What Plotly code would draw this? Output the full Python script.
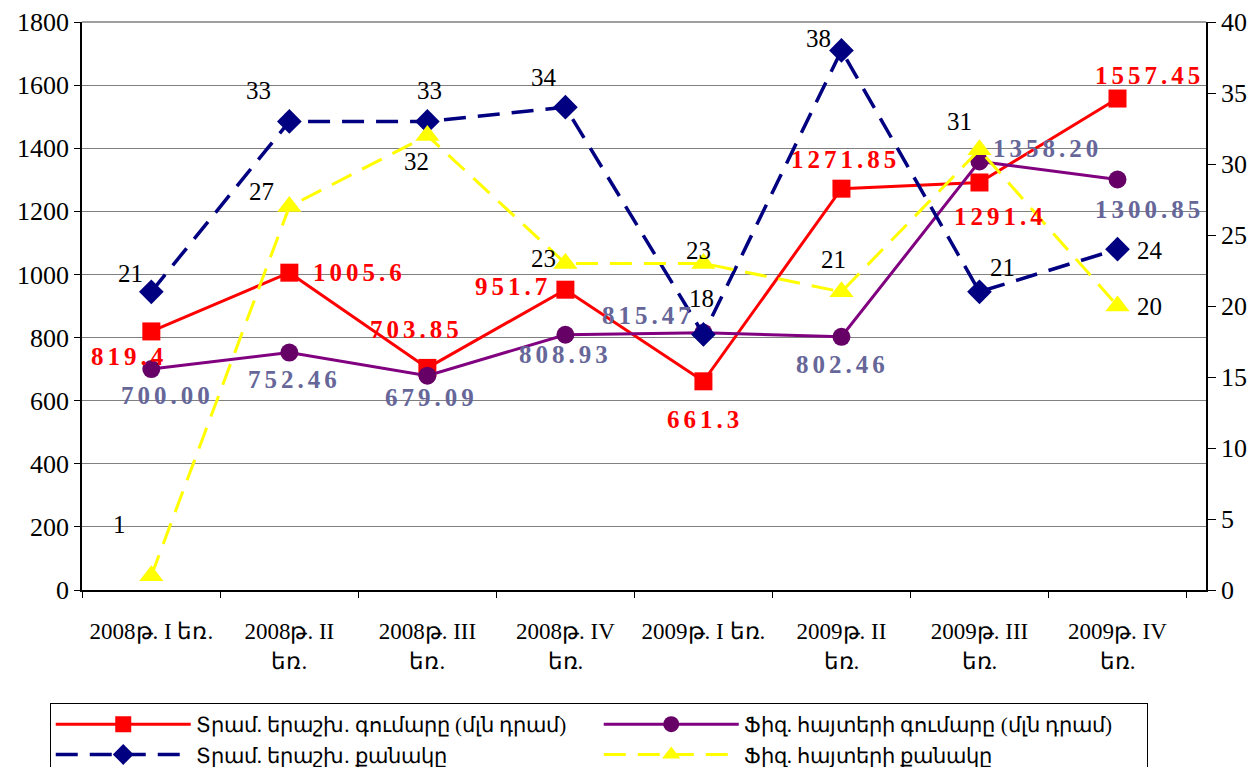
import plotly.graph_objects as go

categories = ["2008թ. I եռ.", "2008թ. II<br>եռ.", "2008թ. III<br>եռ.", "2008թ. IV<br>եռ.",
              "2009թ. I եռ.", "2009թ. II<br>եռ.", "2009թ. III<br>եռ.", "2009թ. IV<br>եռ."]

guar_sum = [819.4, 1005.6, 703.85, 951.7, 661.3, 1271.85, 1291.4, 1557.45]
guar_sum_labels = ["819.4", "1005.6", "703.85", "951.7", "661.3", "1271.85", "1291.4", "1557.45"]
app_sum = [700.00, 752.46, 679.09, 808.93, 815.47, 802.46, 1358.20, 1300.85]
app_sum_labels = ["700.00", "752.46", "679.09", "808.93", "815.47", "802.46", "1358.20", "1300.85"]
guar_cnt = [21, 33, 33, 34, 18, 38, 21, 24]
app_cnt = [1, 27, 32, 23, 23, 21, 31, 20]

names = ["Տրամ. երաշխ. գումարը (մլն դրամ)", "Ֆիզ. հայտերի գումարը (մլն դրամ)",
         "Տրամ. երաշխ. քանակը", "Ֆիզ. հայտերի քանակը"]

# label offsets (dx, dy down) in px
off_red = [(-22, 25), (70, 0), (-11, -38), (-52, -3), (2, 38), (4, -29), (21, 34), (32, -23)]
off_pur = [(16, 26), (5, 27), (4, 22), (0, 20), (-55, -17), (1, 28), (68, -13), (32, 30)]
off_blu = [(-21, -18), (-31, -31), (2, -31), (-21, -30), (-2, -36), (-23, -12), (23, -24), (32, 1)]
off_yel = [(-32, -51), (-28, -15), (-11, 26), (-22, -5), (-5, -13), (-8, -32), (-20, -28), (32, 0)]

SERIF = "Liberation Serif"
PAGE_OFFSET = 8  # browser body margin
FIG_H = 800      # taller than the window; the legend's lower edge is cut off like the original

fig = go.Figure()
fig.add_trace(go.Scatter(x=categories, y=guar_sum, name=names[0], mode="lines+markers",
                         line=dict(color="#FF0000", width=3),
                         marker=dict(symbol="square", size=18, color="#FF0000")))
fig.add_trace(go.Scatter(x=categories, y=app_sum, name=names[1], mode="lines+markers",
                         line=dict(color="#800080", width=3),
                         marker=dict(symbol="circle", size=18, color="#660066")))
fig.add_trace(go.Scatter(x=categories, y=guar_cnt, name=names[2], mode="lines+markers", yaxis="y2",
                         line=dict(color="#000080", width=3.5, dash="22px,12px"),
                         marker=dict(symbol="diamond", size=19, color="#000080")))
fig.add_trace(go.Scatter(x=categories, y=app_cnt, name=names[3], mode="lines+markers", yaxis="y2",
                         line=dict(color="#FFFF00", width=3, dash="22px,12px"),
                         marker=dict(symbol="triangle-up", size=21, color="#FFFF00")))

anns = []
for i, c in enumerate(categories):
    dx, dy = off_red[i]
    anns.append(dict(x=c, y=guar_sum[i], xref="x", yref="y", showarrow=False,
                     text='<span style="letter-spacing:4px"><b>%s</b></span>' % guar_sum_labels[i],
                     xshift=dx, yshift=-dy, font=dict(family=SERIF, size=25, color="#FF0000")))
    dx, dy = off_pur[i]
    anns.append(dict(x=c, y=app_sum[i], xref="x", yref="y", showarrow=False,
                     text='<span style="letter-spacing:4px"><b>%s</b></span>' % app_sum_labels[i],
                     xshift=dx, yshift=-dy, font=dict(family=SERIF, size=25, color="#666699")))
    dx, dy = off_blu[i]
    anns.append(dict(x=c, y=guar_cnt[i], xref="x", yref="y2", showarrow=False,
                     text=str(guar_cnt[i]), xshift=dx, yshift=-dy,
                     font=dict(family=SERIF, size=25, color="#000000")))
    dx, dy = off_yel[i]
    anns.append(dict(x=c, y=app_cnt[i], xref="x", yref="y2", showarrow=False,
                     text=str(app_cnt[i]), xshift=dx, yshift=-dy,
                     font=dict(family=SERIF, size=25, color="#000000")))

fig.update_layout(
    width=1258 - PAGE_OFFSET, height=FIG_H,
    margin=dict(l=82 - PAGE_OFFSET, r=60 - PAGE_OFFSET, t=22 - PAGE_OFFSET,
                b=FIG_H - (590 - PAGE_OFFSET)),
    paper_bgcolor="white", plot_bgcolor="white",
    font=dict(family=SERIF, size=22, color="black"),
    showlegend=True,
    annotations=anns,
    shapes=[dict(type="line", xref="paper", yref="paper", x0=0, x1=1, y0=1, y1=1,
                 line=dict(color="#808080", width=1.5))],
    xaxis=dict(type="category", tickson="boundaries", ticks="outside", ticklen=6,
               tickcolor="black", showline=True, linecolor="black", linewidth=1.5,
               ticklabelstandoff=20, automargin=False,
               showgrid=False, tickfont=dict(family=SERIF, size=23, color="black")),
    yaxis=dict(range=[0, 1800], dtick=200, ticks="outside", ticklen=6, tickcolor="black",
               showline=True, linecolor="black", linewidth=1.5, showgrid=True,
               gridcolor="#808080", gridwidth=1, zeroline=False, automargin=False,
               tickfont=dict(family=SERIF, size=26, color="black")),
    yaxis2=dict(range=[0, 40], dtick=5, overlaying="y", side="right", ticks="outside",
                ticklen=8, tickcolor="black", showline=True, linecolor="black", linewidth=1.5,
                showgrid=False, zeroline=False, automargin=False,
                tickfont=dict(family=SERIF, size=26, color="black")),
    yaxis3=dict(range=[0, 40], dtick=5, overlaying="y", side="right", anchor="x",
                ticks="inside", ticklen=8, tickcolor="black", showticklabels=False,
                showline=False, showgrid=False, zeroline=False, automargin=False),
    legend=dict(orientation="h", x=-0.0287, xanchor="left", y=-0.199, yanchor="top",
                bordercolor="black", borderwidth=1, bgcolor="white",
                entrywidth=398, entrywidthmode="pixels", itemwidth=135,
                font=dict(family=SERIF, size=21, color="black"), traceorder="normal"),
)

fig.write_html("out.html")
